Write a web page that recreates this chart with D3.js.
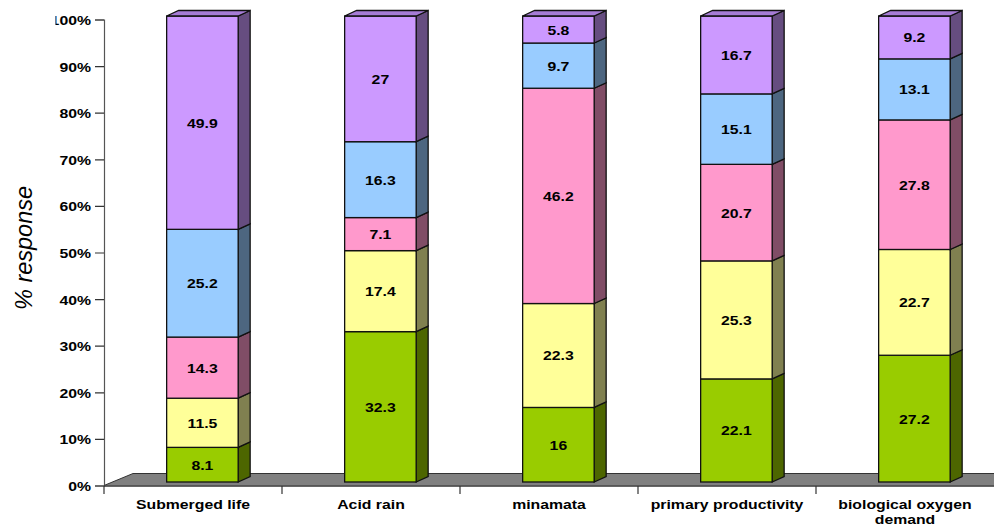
<!DOCTYPE html>
<html lang="en">
<head>
<meta charset="utf-8">
<title>% response by topic</title>
<script src="https://d3js.org/d3.v7.min.js"></script>
<style>
  html, body { margin: 0; padding: 0; background: #fff; overflow: hidden; }
  text { font-family: "Liberation Sans", Arial, sans-serif; fill: #000; }
  .lbl { font-weight: bold; font-size: 13.5px; }
</style>
</head>
<body>
<script>
// survey answers, bottom segment first
var categories = ["Submerged life", "Acid rain", "minamata", "primary productivity", "biological oxygen demand"];
var seriesNames = ["s1", "s2", "s3", "s4", "s5"];
var s1 = [8.1, 32.3, 16, 22.1, 27.2];
var s2 = [11.5, 17.4, 22.3, 25.3, 22.7];
var s3 = [14.3, 7.1, 46.2, 20.7, 27.8];
var s4 = [25.2, 16.3, 9.7, 15.1, 13.1];
var s5 = [49.9, 27, 5.8, 16.7, 9.2];
var seriesValues = [s1, s2, s3, s4, s5];
var yTicks = [0, 0.1, 0.2, 0.3, 0.4, 0.5, 0.6, 0.7, 0.8, 0.9, 1];

var frontColors = ["#99cc00", "#ffff99", "#ff99cc", "#99ccff", "#cc99ff"];
var sideColors = ["#4d6600", "#808050", "#804d66", "#4d6680", "#664d80"];
var topColor = "#a67cd6";

var w = 1000, h = 525;
var depthX = 12, depthY = 5.5;   // oblique offset of the 3D look
var barW = 71.5;
var xStretch = 1.17;             // labels are set wider than the regular face

var svg = d3.select("body").append("svg")
  .attr("width", w).attr("height", h)
  .style("display", "block");

var x = d3.scaleBand().domain(categories).range([104, 994]);
var yAxisScale = d3.scaleLinear().domain([0, 1]).range([485.5, 19.5]);
var yBar = d3.scaleLinear().domain([0, 1]).range([482, 16]);

var rows = categories.map(function(c, i) {
  var r = { cat: c };
  seriesNames.forEach(function(s, k) { r[s] = seriesValues[k][i]; });
  return r;
});
var stacked = d3.stack().keys(seriesNames).offset(d3.stackOffsetExpand)(rows);

// the grey floor
svg.append("path")
  .attr("d", "M104,485.5L133,473.5L994,473.5L994,485.5Z")
  .attr("fill", "#808080");
svg.append("path")
  .attr("d", "M104,485.5L133,473.5L994,473.5")
  .attr("fill", "none").attr("stroke", "#333").attr("stroke-width", 1);

// stacked columns
var barLeft = function(d) { return x(d.data.cat) + x.bandwidth() / 2 + 9.4 - barW / 2; };

stacked.forEach(function(layer, k) {
  var g = svg.append("g");
  g.selectAll("path.side").data(layer).enter().append("path")
    .attr("class", "side")
    .attr("d", function(d) {
      var r = barLeft(d) + barW, y0 = yBar(d[0]), y1 = yBar(d[1]);
      return "M" + r + "," + y0 + "L" + (r + depthX) + "," + (y0 - depthY) +
             "L" + (r + depthX) + "," + (y1 - depthY) + "L" + r + "," + y1 + "Z";
    })
    .attr("fill", sideColors[k]).attr("stroke", "#111").attr("stroke-width", 1.3);
  g.selectAll("rect").data(layer).enter().append("rect")
    .attr("x", barLeft)
    .attr("y", function(d) { return yBar(d[1]); })
    .attr("width", barW)
    .attr("height", function(d) { return yBar(d[0]) - yBar(d[1]); })
    .attr("fill", frontColors[k]).attr("stroke", "#111").attr("stroke-width", 1.3);
});

// lid on the top segment
svg.append("g").selectAll("path").data(stacked[4]).enter().append("path")
  .attr("d", function(d) {
    var l = barLeft(d), t = yBar(d[1]);
    return "M" + l + "," + t + "L" + (l + depthX) + "," + (t - depthY) +
           "L" + (l + barW + depthX) + "," + (t - depthY) + "L" + (l + barW) + "," + t + "Z";
  })
  .attr("fill", topColor).attr("stroke", "#111").attr("stroke-width", 1.3);

// value labels
stacked.forEach(function(layer, k) {
  svg.append("g").selectAll("text").data(layer).enter().append("text")
    .attr("class", "lbl")
    .attr("text-anchor", "middle")
    .attr("transform", function(d) {
      return "translate(" + (barLeft(d) + barW / 2) + "," + ((yBar(d[0]) + yBar(d[1])) / 2 + 5) + ") scale(" + xStretch + ",1)";
    })
    .text(function(d) { return d.data[seriesNames[k]]; });
});

// left axis
var yAxis = d3.axisLeft(yAxisScale)
  .tickValues(yTicks)
  .tickSize(9)
  .tickFormat(d3.format(".0%"));
var axisG = svg.append("g").attr("transform", "translate(104,0)").call(yAxis);
axisG.select(".domain").attr("stroke", "#555").attr("stroke-width", 1.2);
axisG.selectAll(".tick line").attr("stroke", "#333").attr("stroke-width", 1.2);
axisG.selectAll(".tick text")
  .attr("class", "lbl")
  .style("font-family", null)
  .attr("x", null).attr("dy", null)
  .attr("text-anchor", "end")
  .attr("transform", "translate(-13,5) scale(" + xStretch + ",1)");

// the widest tick label runs into the left edge of the plot frame
svg.append("clipPath").attr("id", "leftEdge")
  .append("rect").attr("x", -48.5).attr("y", 0).attr("width", 62).attr("height", h);
axisG.attr("clip-path", "url(#leftEdge)");

// bottom axis with ticks at the category boundaries
var xEdges = categories.map(function(c) { return x(c); });
svg.append("line").attr("x1", 104).attr("x2", 994)
  .attr("y1", 486).attr("y2", 486)
  .attr("stroke", "#333").attr("stroke-width", 1.5);
svg.append("g").selectAll("line").data(xEdges).enter().append("line")
  .attr("x1", function(d) { return d; }).attr("x2", function(d) { return d; })
  .attr("y1", 486).attr("y2", 494)
  .attr("stroke", "#333").attr("stroke-width", 1.2);

// category names, the last one wraps onto two lines
svg.append("g").selectAll("g").data(categories).enter().append("g")
  .attr("transform", function(d) { return "translate(" + (x(d) + x.bandwidth() / 2) + ",509) scale(" + xStretch + ",1)"; })
  .each(function(d) {
    var lines = d === "biological oxygen demand" ? ["biological oxygen", "demand"] : [d];
    d3.select(this).selectAll("text").data(lines).enter().append("text")
      .attr("class", "lbl")
      .attr("text-anchor", "middle")
      .attr("y", function(l, i) { return i * 15; })
      .text(function(l) { return l; });
  });

// y title
svg.append("text")
  .attr("transform", "translate(32,248) rotate(-90)")
  .attr("text-anchor", "middle")
  .style("font-size", "23.5px")
  .style("font-style", "italic")
  .text("% response");
</script>
</body>
</html>
